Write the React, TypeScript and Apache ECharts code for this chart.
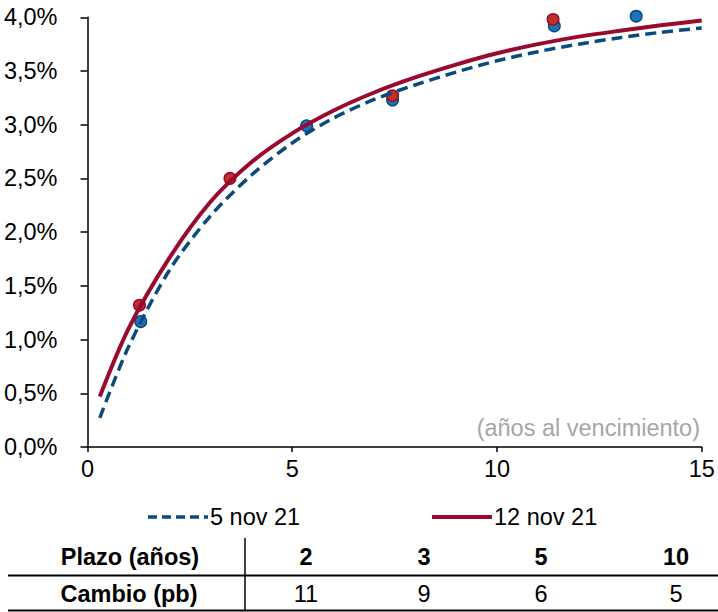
import React, { useEffect, useRef } from "react";
import * as echarts from "echarts";

// Curve samples (years to maturity, yield %)
const curveX = [0.3, 1, 2, 3, 4, 5, 6, 7, 8, 9, 10, 11, 12, 13, 14, 15];
const curveNov5 = [0.27, 0.93, 1.645, 2.15, 2.53, 2.83, 3.06, 3.235, 3.37, 3.49, 3.595, 3.68, 3.75, 3.81, 3.86, 3.9];
const curveNov12 = [0.47, 1.1, 1.76, 2.28, 2.65, 2.92, 3.13, 3.3, 3.44, 3.56, 3.665, 3.75, 3.82, 3.875, 3.925, 3.97];

// Observed points
const pointsNov5X = [1.3, 5.35, 7.45, 11.4, 13.4];
const pointsNov5Y = [1.167, 2.99, 3.23, 3.92, 4.01];
const pointsNov12X = [1.27, 3.48, 7.45, 11.37];
const pointsNov12Y = [1.32, 2.5, 3.27, 3.98];

// Table
const tableHeader = "Plazo (años)";
const tableRowLabel = "Cambio (pb)";
const plazos = ["2", "3", "5", "10"];
const cambios = [11, 9, 6, 5];

const legendNames = ["5 nov 21", "12 nov 21"];
const xAxisNote = "(años al vencimiento)";

const BLUE_LINE = "#0B4A7D";
const RED_LINE = "#990A2E";
const FONT = "Liberation Sans, Arial, sans-serif";
const FS = 23.5;

export default function App() {
  const ref = useRef<HTMLDivElement>(null);

  useEffect(() => {
    if (!ref.current) return;
    const chart = echarts.init(ref.current, null, { renderer: "svg" });
    const zip = (xs: number[], ys: number[]) => xs.map((x, i) => [x, ys[i]]);
    const colX = [306, 424, 541, 676];

    const graphic: any[] = [
      // legend
      { type: "line", shape: { x1: 148, y1: 517, x2: 208, y2: 517 }, style: { stroke: BLUE_LINE, lineWidth: 3.5, lineDash: [9, 5] } },
      { type: "text", style: { text: legendNames[0], x: 210, y: 517, textVerticalAlign: "middle", font: `${FS}px ${FONT}`, fill: "#000" } },
      { type: "line", shape: { x1: 432, y1: 517, x2: 492, y2: 517 }, style: { stroke: RED_LINE, lineWidth: 4 } },
      { type: "text", style: { text: legendNames[1], x: 494, y: 517, textVerticalAlign: "middle", font: `${FS}px ${FONT}`, fill: "#000" } },
      // axis note
      { type: "text", style: { text: xAxisNote, x: 700, y: 428, textAlign: "right", textVerticalAlign: "middle", font: `${FS}px ${FONT}`, fill: "#A6A6A6" } },
      // table lines
      { type: "line", shape: { x1: 245, y1: 538, x2: 245, y2: 610 }, style: { stroke: "#000", lineWidth: 1.5 } },
      { type: "line", shape: { x1: 8, y1: 575.5, x2: 718, y2: 575.5 }, style: { stroke: "#000", lineWidth: 2 } },
      { type: "line", shape: { x1: 8, y1: 610.5, x2: 718, y2: 610.5 }, style: { stroke: "#000", lineWidth: 2 } },
      { type: "text", style: { text: tableHeader, x: 130, y: 557, textAlign: "center", textVerticalAlign: "middle", font: `bold ${FS}px ${FONT}`, fill: "#000" } },
      { type: "text", style: { text: tableRowLabel, x: 129, y: 594, textAlign: "center", textVerticalAlign: "middle", font: `bold ${FS}px ${FONT}`, fill: "#000" } },
    ];
    plazos.forEach((p, i) => {
      graphic.push({ type: "text", style: { text: p, x: colX[i], y: 557, textAlign: "center", textVerticalAlign: "middle", font: `bold ${FS}px ${FONT}`, fill: "#000" } });
    });
    cambios.forEach((c, i) => {
      graphic.push({ type: "text", style: { text: String(c), x: colX[i], y: 594, textAlign: "center", textVerticalAlign: "middle", font: `${FS}px ${FONT}`, fill: "#000" } });
    });

    chart.setOption({
      animation: false,
      textStyle: { fontFamily: FONT },
      grid: { left: 87.5, right: 16.3, top: 17.3, bottom: 165, containLabel: false },
      xAxis: {
        type: "value",
        min: 0,
        max: 15,
        interval: 5,
        splitLine: { show: false },
        axisLine: { show: true, onZero: false, lineStyle: { color: "#000", width: 1.5 } },
        axisTick: { show: true, length: 5, lineStyle: { color: "#000", width: 1.5 } },
        axisLabel: { color: "#000", fontSize: FS, margin: 10, fontFamily: FONT },
      },
      yAxis: {
        type: "value",
        min: 0,
        max: 4,
        interval: 0.5,
        splitLine: { show: false },
        axisLine: { show: true, lineStyle: { color: "#000", width: 1.5 } },
        axisTick: { show: true, length: 7, lineStyle: { color: "#000", width: 1.5 } },
        axisLabel: {
          color: "#000",
          fontSize: FS,
          margin: 30,
          fontFamily: FONT,
          formatter: (v: number) => v.toFixed(1).replace(".", ",") + "%",
        },
      },
      series: [
        {
          name: legendNames[0],
          type: "line",
          data: zip(curveX, curveNov5),
          smooth: 0.3,
          symbol: "none",
          lineStyle: { color: BLUE_LINE, width: 3.5, type: [11, 6] },
        },
        {
          name: legendNames[1],
          type: "line",
          data: zip(curveX, curveNov12),
          smooth: 0.3,
          symbol: "none",
          lineStyle: { color: RED_LINE, width: 4 },
        },
        {
          type: "scatter",
          data: zip(pointsNov5X, pointsNov5Y),
          symbolSize: 11.5,
          clip: false,
          itemStyle: { color: "#1976BE", borderColor: "#0B4A7D", borderWidth: 1.5, opacity: 1 },
        },
        {
          type: "scatter",
          data: zip(pointsNov12X, pointsNov12Y),
          symbolSize: 11.5,
          clip: false,
          itemStyle: { color: "#BE3028", borderColor: "#9A0A2E", borderWidth: 1.5, opacity: 1 },
        },
      ],
      graphic,
    });
    return () => chart.dispose();
  }, []);

  return <div ref={ref} style={{ position: "fixed", left: 0, top: 0, width: 718, height: 612, background: "#fff" }} />;
}
